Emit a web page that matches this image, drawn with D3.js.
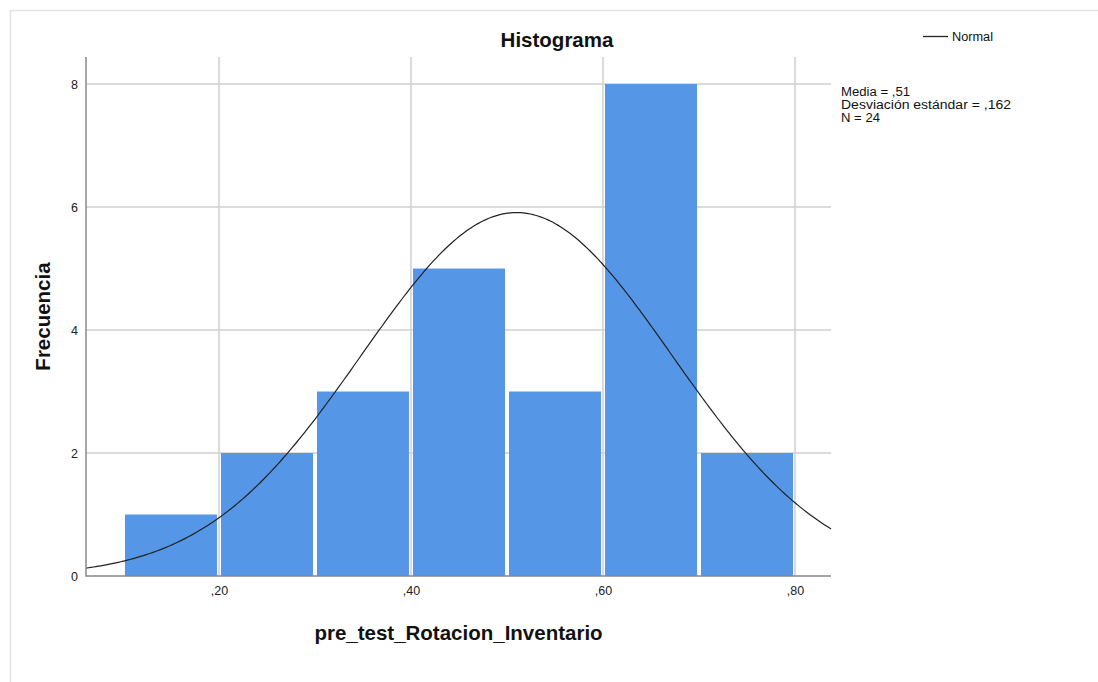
<!DOCTYPE html>
<html>
<head>
<meta charset="utf-8">
<script src="https://cdn.jsdelivr.net/npm/d3@7"></script>
<style>
    body { margin: 0; background: #fff; font-family: "Liberation Sans", Arial, sans-serif; }
    .axis text { font-size: 12.5px; fill: #222; }
    .grid-lines line { stroke: #cfcfcf; stroke-width: 1.5; }
    .bold { font-weight: bold; font-size: 20.5px; fill: #111; }
    .note { font-size: 12px; fill: #111; }
    .stat { font-size: 12.5px; fill: #111; }
</style>
</head>
<body>
<div class="mainview"></div>
<script>

// Data ////////////////////////////////////

const binEdges = [0.1, 0.2, 0.3, 0.4, 0.5, 0.6, 0.7, 0.8];
const counts = [1, 2, 3, 5, 3, 8, 2];
const xTicks = [0.2, 0.4, 0.6, 0.8];
const yTicks = [0, 2, 4, 6, 8];
const stats = { mean: 0.51, sd: 0.162, n: 24 };
const statLines = ["Media = ,51", "Desviación estándar = ,162", "N = 24"];
const statWidths = [69, 170, 39];

const dim = { width: 1098, height: 682 };
const plot = { left: 86, right: 831, top: 57, bottom: 576 };

const svg = d3.select(".mainview").append("svg")
    .attr("width", dim.width)
    .attr("height", dim.height);

// frame
svg.append("path")
    .attr("d", `M10.5,${ dim.height } V10.5 H${ dim.width }`)
    .attr("fill", "none")
    .attr("stroke", "#e3e3e3")
    .attr("stroke-width", 1.5);

const x = d3.scaleLinear()
    .domain([0.0615, 0.8375])
    .range([plot.left, plot.right]);

const y = d3.scaleLinear()
    .domain([0, 8.44])
    .range([plot.bottom, plot.top]);

const fmt = d => "," + d3.format(".2f")(d).split(".")[1];

// grid
const grid = svg.append("g").attr("class", "grid-lines");
grid.selectAll("line.v")
    .data(xTicks)
    .join("line")
    .attr("class", "v")
    .attr("x1", d => x(d)).attr("x2", d => x(d))
    .attr("y1", plot.top).attr("y2", plot.bottom);
grid.selectAll("line.h")
    .data(yTicks.filter(d => d !== 0))
    .join("line")
    .attr("class", "h")
    .attr("x1", plot.left).attr("x2", plot.right)
    .attr("y1", d => y(d)).attr("y2", d => y(d));

// bars
svg.append("g")
    .selectAll("rect")
    .data(counts)
    .join("rect")
    .attr("x", (d, i) => x(binEdges[i]) + 2)
    .attr("y", d => y(d))
    .attr("width", (d, i) => x(binEdges[i + 1]) - x(binEdges[i]) - 4)
    .attr("height", d => y(0) - y(d))
    .attr("fill", "#5596e6");

// normal curve
const binWidth = binEdges[1] - binEdges[0];
const density = v => stats.n * binWidth / (stats.sd * Math.sqrt(2 * Math.PI))
    * Math.exp(-0.5 * Math.pow((v - stats.mean) / stats.sd, 2));
const xs = d3.range(0, 301).map(i => x.invert(plot.left + i * (plot.right - plot.left) / 300));

svg.append("path")
    .attr("d", d3.line().x(d => x(d)).y(d => y(density(d)))(xs))
    .attr("fill", "none")
    .attr("stroke", "#222")
    .attr("stroke-width", 1.2);

// axes
const xAxis = d3.axisBottom(x)
    .tickValues(xTicks)
    .tickFormat(fmt)
    .tickSize(0)
    .tickPadding(10);
svg.append("g")
    .attr("class", "axis x")
    .attr("transform", `translate(0, ${ plot.bottom })`)
    .call(xAxis)
    .call(g => g.select(".domain").remove());

const yAxis = d3.axisLeft(y)
    .tickValues(yTicks)
    .tickFormat(d3.format("d"))
    .tickSize(0)
    .tickPadding(8);
svg.append("g")
    .attr("class", "axis y")
    .attr("transform", `translate(${ plot.left }, 0)`)
    .call(yAxis)
    .call(g => g.select(".domain").remove());

svg.append("path")
    .attr("d", `M${ plot.left },${ plot.top } V${ plot.bottom } H${ plot.right }`)
    .attr("fill", "none")
    .attr("stroke", "#888")
    .attr("stroke-width", 1.5);

// texts
svg.append("text")
    .attr("class", "bold")
    .attr("x", 557).attr("y", 47)
    .attr("text-anchor", "middle")
    .text("Histograma");

svg.append("text")
    .attr("class", "bold")
    .attr("x", (plot.left + plot.right) / 2).attr("y", 640)
    .attr("text-anchor", "middle")
    .text("pre_test_Rotacion_Inventario");

svg.append("text")
    .attr("class", "bold")
    .attr("transform", `translate(50, ${ (plot.top + plot.bottom) / 2 }) rotate(-90)`)
    .attr("text-anchor", "middle")
    .text("Frecuencia");

// legend
svg.append("line")
    .attr("x1", 923).attr("x2", 948)
    .attr("y1", 36.5).attr("y2", 36.5)
    .attr("stroke", "#222")
    .attr("stroke-width", 1.3);
svg.append("text")
    .attr("class", "note")
    .attr("x", 952).attr("y", 41)
    .attr("textLength", 41)
    .attr("lengthAdjust", "spacingAndGlyphs")
    .text("Normal");

svg.append("g")
    .selectAll("text")
    .data(statLines)
    .join("text")
    .attr("class", "stat")
    .attr("x", 841)
    .attr("y", (d, i) => 96 + i * 13)
    .attr("textLength", (d, i) => statWidths[i])
    .attr("lengthAdjust", "spacingAndGlyphs")
    .text(d => d);

</script>
</body>
</html>
